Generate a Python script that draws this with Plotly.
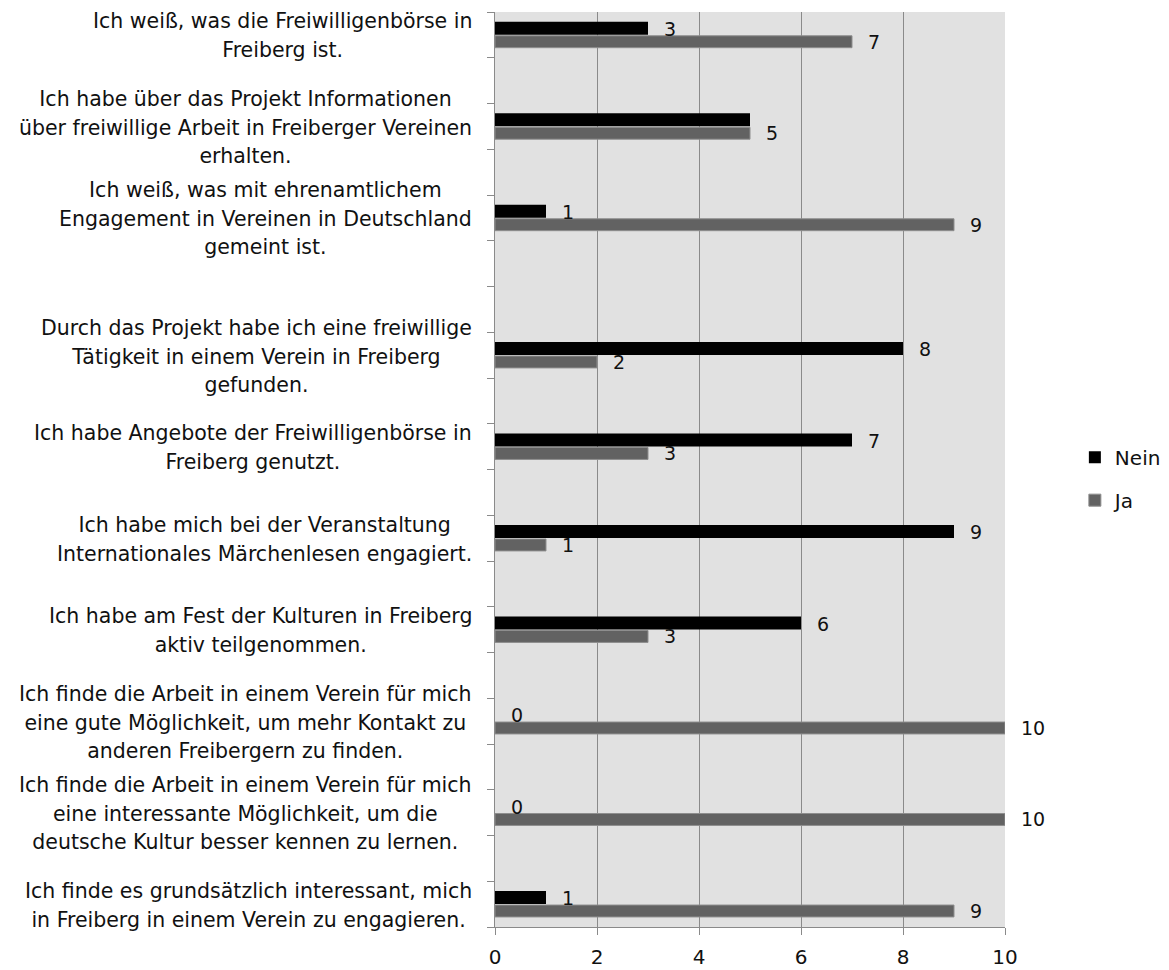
import plotly.graph_objects as go

categories = [
    "Ich weiß, was die Freiwilligenbörse in<br>Freiberg ist.",
    "",
    "Ich habe über das Projekt Informationen<br>über freiwillige Arbeit in Freiberger Vereinen<br>erhalten.",
    "",
    "Ich weiß, was mit ehrenamtlichem<br>Engagement in Vereinen in Deutschland<br>gemeint ist.",
    "",
    "",
    "Durch das Projekt habe ich eine freiwillige<br>Tätigkeit in einem Verein in Freiberg<br>gefunden.",
    "",
    "Ich habe Angebote der Freiwilligenbörse in<br>Freiberg genutzt.",
    "",
    "Ich habe mich bei der Veranstaltung<br>Internationales Märchenlesen engagiert.",
    "",
    "Ich habe am Fest der Kulturen in Freiberg<br>aktiv teilgenommen.",
    "",
    "Ich finde die Arbeit in einem Verein für mich<br>eine gute Möglichkeit, um mehr Kontakt zu<br>anderen Freibergern zu finden.",
    "",
    "Ich finde die Arbeit in einem Verein für mich<br>eine interessante Möglichkeit, um die<br>deutsche Kultur besser kennen zu lernen.",
    "",
    "Ich finde es grundsätzlich interessant, mich<br>in Freiberg in einem Verein zu engagieren.",
]
nein = [3, None, 5, None, 1, None, None, 8, None, 7, None, 9, None, 6, None, 0, None, 0, None, 1]
ja = [7, None, 5, None, 9, None, None, 2, None, 3, None, 1, None, 3, None, 10, None, 10, None, 9]
x_ticks = [0, 2, 4, 6, 8, 10]

FONT = "DejaVu Sans"
LABEL_PX = 20.5
rows = list(range(len(categories)))

NEIN_OFF, NEIN_W = -0.285, 0.28
JA_OFF, JA_W = 0.02, 0.26

fig = go.Figure()
fig.add_trace(go.Bar(
    name="Nein", y=rows, x=nein, orientation="h",
    offset=NEIN_OFF, width=NEIN_W,
    marker=dict(color="#000000", line=dict(width=0)),
    legendgroup="n",
))
fig.add_trace(go.Bar(
    name="Ja", y=rows, x=ja, orientation="h",
    offset=JA_OFF, width=JA_W,
    marker=dict(color="#626262", line=dict(color="#8e8e8e", width=1)),
    legendgroup="j",
))

annotations = []
for r, lab in zip(rows, categories):
    if not lab:
        continue
    inner = "<br>".join(f'<span style="font-size:{LABEL_PX}px">{ln}</span>' for ln in lab.split("<br>"))
    annotations.append(dict(
        x=0, y=r, xref="x", yref="y", text=inner, showarrow=False,
        xanchor="right", yanchor="middle", align="center", xshift=-21, yshift=-1,
        font=dict(family=FONT, size=22, color="#111111"),
    ))
for r, v, w in zip(rows, nein, ja):
    # the Nein label is hidden behind the Ja label when both values are equal
    if v is None or v == w:
        continue
    annotations.append(dict(
        x=v, y=r + NEIN_OFF + NEIN_W / 2, xref="x", yref="y", text=str(v),
        showarrow=False, xanchor="left", yanchor="middle", xshift=14, yshift=-1,
        font=dict(family=FONT, size=19, color="#111111"),
    ))
for r, v in zip(rows, ja):
    if v is None:
        continue
    annotations.append(dict(
        x=v, y=r + JA_OFF + JA_W / 2, xref="x", yref="y", text=str(v),
        showarrow=False, xanchor="left", yanchor="middle", xshift=14,
        font=dict(family=FONT, size=19, color="#111111"),
    ))

boundaries = [r - 0.5 for r in rows] + [rows[-1] + 0.5]

fig.update_layout(
    width=1169, height=970,
    margin=dict(l=495, r=164, t=12, b=43, autoexpand=False),
    paper_bgcolor="white",
    plot_bgcolor="#e1e1e1",
    barmode="overlay",
    font=dict(family=FONT, size=19, color="#111111"),
    showlegend=True,
    legend=dict(
        x=1.137, y=0.49, xanchor="left", yanchor="middle",
        traceorder="grouped", tracegroupgap=14,
        font=dict(family=FONT, size=20, color="#111111"),
        itemwidth=30, bgcolor="rgba(0,0,0,0)",
    ),
    annotations=annotations,
    xaxis=dict(
        range=[0, 10], tickvals=x_ticks, showgrid=True, gridcolor="#8a8a8a", gridwidth=1.3,
        showline=True, linecolor="#8a8a8a", linewidth=1.3,
        ticks="outside", ticklen=7, tickcolor="#8a8a8a", tickwidth=1.3,
        tickfont=dict(family=FONT, size=20, color="#111111"),
        ticklabelstandoff=5, zeroline=False, fixedrange=True, automargin=False,
    ),
    yaxis=dict(
        range=[rows[-1] + 0.5, rows[0] - 0.5], tickvals=boundaries, showticklabels=False,
        showgrid=False, zeroline=False, showline=True, linecolor="#8a8a8a", linewidth=1.3,
        ticks="outside", ticklen=7, tickcolor="#8a8a8a", tickwidth=1.3, fixedrange=True,
        automargin=False,
    ),
)

fig.write_html("out.html")
